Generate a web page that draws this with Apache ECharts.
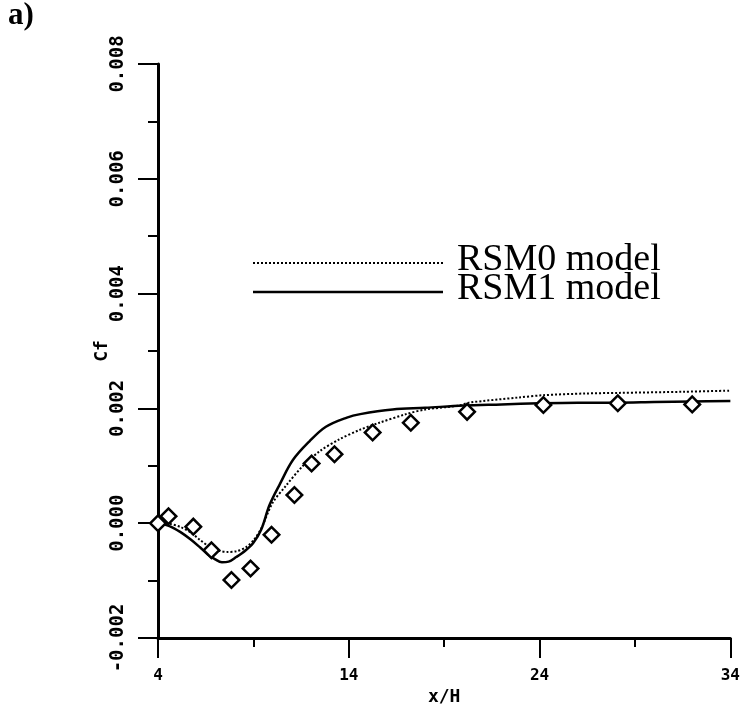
<!DOCTYPE html>
<html>
<head>
<meta charset="utf-8">
<script src="https://cdn.jsdelivr.net/npm/echarts@6/dist/echarts.min.js"></script>
<style>
html,body{margin:0;padding:0;background:#fff;}
#chart{width:743px;height:714px;}
</style>
</head>
<body>
<div id="chart"></div>
<script>
// Experimental data (diamonds)
const expX = [4.0, 4.55, 5.85, 6.8, 7.85, 8.85, 9.95, 11.15, 12.05, 13.25, 15.25, 17.25, 20.2, 24.2, 28.1, 32.0];
const expY = [0.0, 0.00012, -0.00006, -0.00047, -0.00099, -0.00079, -0.0002, 0.00049, 0.00104, 0.0012, 0.00158, 0.00175, 0.00194, 0.00206, 0.00209, 0.00207];

// RSM0 model (dotted)
const rsm0X = [4.0, 4.6, 5.2, 5.7, 6.2, 6.7, 7.2, 7.65, 8.1, 8.6, 9.0, 9.4, 10.0, 10.7, 11.6, 12.5, 13.5, 14.6, 15.6, 17.0, 18.0, 19.8, 20.3, 22.9, 24.2, 26.4, 28.1, 31.6, 34.0];
const rsm0Y = [0.0, -0.00001, -0.00007, -0.00016, -0.00029, -0.00041, -0.00048, -0.0005, -0.00049, -0.00042, -0.0003, -0.0001, 0.00035, 0.00065, 0.001, 0.00126, 0.00146, 0.00163, 0.00175, 0.0019, 0.00198, 0.00205, 0.0021, 0.00219, 0.00223, 0.00226, 0.00227, 0.00229, 0.00231];

// RSM1 model (solid)
const rsm1X = [4.0, 4.6, 5.2, 5.7, 6.2, 6.6, 7.0, 7.35, 7.7, 8.1, 8.6, 9.0, 9.4, 9.85, 10.4, 11.07, 11.95, 12.8, 13.9, 14.6, 16.3, 18.0, 20.0, 22.0, 24.0, 26.0, 28.0, 30.0, 32.0, 34.0];
const rsm1Y = [0.0, -0.00005, -0.00016, -0.00028, -0.00042, -0.00054, -0.00063, -0.00068, -0.00067, -0.00059, -0.00047, -0.00034, -0.00012, 0.00032, 0.00069, 0.0011, 0.00143, 0.00168, 0.00184, 0.0019, 0.00198, 0.00201, 0.00205, 0.00207, 0.00209, 0.0021, 0.0021, 0.00211, 0.00212, 0.00213];

// Axis settings
const xMin = 4, xMax = 34, xStep = 10;
const yMin = -0.002, yMax = 0.008, yStep = 0.002;
const legendNames = ['RSM0 model', 'RSM1 model'];

const zip = (xs, ys) => xs.map((x, i) => [x, ys[i]]);

const chart = echarts.init(document.getElementById('chart'), null, {renderer: 'canvas'});
const labelFont = 'DejaVu Sans Mono';
chart.setOption({
  animation: false,
  backgroundColor: '#ffffff',
  grid: {left: 158, right: 11, top: 64, bottom: 76, containLabel: false},
  xAxis: {
    type: 'value', min: xMin, max: xMax, interval: xStep,
    name: 'x/H', nameLocation: 'middle', nameGap: 50, nameMoveOverlap: false,
    nameTextStyle: {fontFamily: labelFont, fontWeight: 'bold', fontSize: 18, color: '#000'},
    axisLine: {show: true, onZero: false, lineStyle: {color: '#000', width: 3}},
    axisTick: {show: true, length: 20, lineStyle: {color: '#000', width: 2}},
    minorTick: {show: true, splitNumber: 2, length: 9, lineStyle: {color: '#000', width: 2}},
    axisLabel: {margin: 30, fontFamily: labelFont, fontWeight: 'bold', fontSize: 16, color: '#000'},
    splitLine: {show: false}
  },
  yAxis: {
    type: 'value', min: yMin, max: yMax, interval: yStep,
    name: 'Cf', nameLocation: 'middle', nameGap: 47, nameRotate: 90, nameMoveOverlap: false,
    nameTextStyle: {fontFamily: labelFont, fontWeight: 'bold', fontSize: 18, color: '#000'},
    axisLine: {show: true, onZero: false, lineStyle: {color: '#000', width: 3}},
    axisTick: {show: true, length: 20, lineStyle: {color: '#000', width: 2}},
    minorTick: {show: true, splitNumber: 2, length: 10, lineStyle: {color: '#000', width: 2}},
    axisLabel: {rotate: 90, margin: 30, fontFamily: labelFont, fontWeight: 'bold', fontSize: 19, color: '#000',
      formatter: v => v.toFixed(3)},
    splitLine: {show: false}
  },
  series: [
    {
      name: legendNames[0], type: 'line', data: zip(rsm0X, rsm0Y), smooth: 0.3,
      showSymbol: false, symbol: 'none',
      lineStyle: {color: '#000', width: 2, type: [2, 2]}, z: 3
    },
    {
      name: legendNames[1], type: 'line', data: zip(rsm1X, rsm1Y), smooth: 0.35,
      showSymbol: false, symbol: 'none',
      lineStyle: {color: '#000', width: 2.5, type: 'solid'}, z: 3
    },
    {
      name: 'Experiment', type: 'scatter', data: zip(expX, expY),
      symbol: 'rect', symbolRotate: 45, symbolSize: 11,
      itemStyle: {color: '#fff', borderColor: '#000', borderWidth: 2.5, opacity: 1}, z: 4
    }
  ],
  graphic: [
    {type: 'text', left: 8, top: 0,
      style: {text: 'a)', font: 'bold 31px "Liberation Serif"', fill: '#000'}},
    {type: 'line', shape: {x1: 253, y1: 263, x2: 443, y2: 263},
      style: {stroke: '#000', lineWidth: 2, lineDash: [2, 2]}},
    {type: 'line', shape: {x1: 253, y1: 292, x2: 443, y2: 292},
      style: {stroke: '#000', lineWidth: 2.5}},
    {type: 'text', x: 457, y: 260,
      style: {text: legendNames[0], font: '38px "Liberation Serif"', fill: '#000', textVerticalAlign: 'middle'}},
    {type: 'text', x: 457, y: 289,
      style: {text: legendNames[1], font: '38px "Liberation Serif"', fill: '#000', textVerticalAlign: 'middle'}}
  ]
});
</script>
</body>
</html>
